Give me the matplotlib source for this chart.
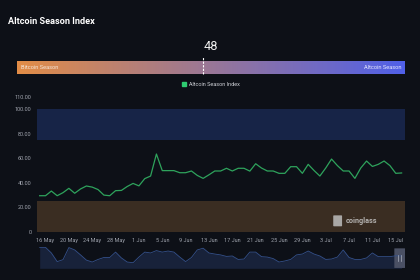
import numpy as np
import pandas as pd
import matplotlib
matplotlib.use("Agg")
import matplotlib.pyplot as plt
from matplotlib.colors import LinearSegmentedColormap
from matplotlib.patches import FancyBboxPatch

plt.rcParams['font.family'] = ['Roboto', 'DejaVu Sans']

# data
dates = pd.date_range("2024-05-15", "2024-07-16", freq="D")
index_values = [29.5, 29.5, 33.3, 29.5, 32.0, 35.5, 31.5, 35.0, 37.4, 36.5,
                34.5, 30.0, 29.5, 33.6, 33.8, 37.0, 39.5, 37.5, 43.4, 45.5,
                63.4, 49.9, 49.9, 49.9, 48.2, 48.2, 49.6, 46.0, 43.6, 46.5,
                49.6, 49.6, 51.8, 49.6, 51.8, 51.8, 49.5, 55.5, 52.0, 49.6,
                49.6, 47.7, 47.7, 53.1, 53.1, 47.7, 55.0, 50.0, 45.5, 52.0,
                59.3, 54.0, 49.6, 49.6, 43.6, 52.0, 57.7, 53.3, 55.0, 57.7,
                54.0, 47.7, 48.0]
# navigator (overview) series
nav_values = [97, 97, 71, 31, 40, 96, 85, 62, 38, 29,
              41, 50, 50, 75, 48, 29, 26, 52, 75, 71,
              82, 75, 80, 75, 52, 31, 50, 85, 93, 71,
              66, 62, 55, 57, 41, 43, 75, 75, 54, 52,
              45, 29, 34, 41, 62, 66, 80, 66, 57, 41,
              43, 52, 85, 50, 41, 41, 48, 71, 54, 54,
              54, 58, 57]
current_value = 48
y_ticks = [0, 20, 40, 60, 80, 100, 110]
tick_dates = pd.date_range("2024-05-16", "2024-07-15", freq="4D")

bg = "#0d1017"
fig = plt.figure(figsize=(4.2, 2.8), dpi=100)
fig.patch.set_facecolor(bg)

fig.text(7.5 / 420, 1 - 21 / 280, "Altcoin Season Index", color="white",
         fontsize=6.6, fontweight="bold", va="center", ha="left")

# gauge bar
gax = fig.add_axes([17 / 420, 1 - 74.3 / 280, 388 / 420, 13.3 / 280])
cmap = LinearSegmentedColormap.from_list("season", ["#e28d47", "#5060e8"])
gax.imshow(np.linspace(0, 1, 256).reshape(1, -1), aspect="auto", cmap=cmap,
           extent=[0, 100, 0, 1])
gax.set_xlim(0, 100)
gax.set_ylim(0, 1)
gax.axis("off")
gax.text(1.0, 0.5, "Bitcoin Season", color="#f4e6da", fontsize=4.1,
         va="center", ha="left")
gax.text(99.0, 0.5, "Altcoin Season", color="#e6e8ff", fontsize=4.1,
         va="center", ha="right")
gax.plot([current_value, current_value], [0.05, 1.3], color="white", lw=0.8,
         ls=(0, (2, 1.2)), clip_on=False)
gax.text(current_value + 0.15, 2.07, str(current_value), color="#eeeeee",
         fontsize=9.2, ha="left", va="center")

# legend
fig.patches.append(plt.Rectangle((181.7 / 420, 1 - 86 / 280), 4 / 420, 4 / 280,
                                 transform=fig.transFigure, color="#2ecc71"))
fig.text(189 / 420, 1 - 84 / 280, "Altcoin Season Index", color="#d0d2d8",
         fontsize=4.0, va="center", ha="left")

# main chart
ax = fig.add_axes([37 / 420, 1 - 232 / 280, 368 / 420, 135.3 / 280])
ax.set_facecolor(bg)
ax.axhspan(75, 100, color="#172447", lw=0)
ax.axhspan(0, 25, color="#3a2d22", lw=0)
ax.plot(dates, index_values, color="#2ea35c", lw=0.9, solid_joinstyle="round")
ax.set_ylim(0, 110)
ax.set_xlim(dates[0] - pd.Timedelta(hours=11), dates[-1] + pd.Timedelta(hours=14))
ax.set_yticks(y_ticks)
ax.set_yticklabels(["0" if v == 0 else f"{v:.2f}" for v in y_ticks])
ax.set_xticks(tick_dates)
ax.set_xticklabels([f"{d.day} {d.strftime('%b')}" for d in tick_dates])
ax.tick_params(colors="#a0a4ae", labelsize=4.0, length=0, pad=4)
for s in ax.spines.values():
    s.set_visible(False)

# watermark
ax.text(0.838, 0.081, "coinglass", transform=ax.transAxes, color="#c9c9c9",
        fontsize=5.2, fontweight="bold", va="center", ha="left", alpha=0.85)
ax.add_patch(FancyBboxPatch((0.808, 0.045), 0.018, 0.075, transform=ax.transAxes,
                            boxstyle="round,pad=0.003", color="#bdbdbd", lw=0,
                            alpha=0.85))

# navigator
nax = fig.add_axes([37 / 420, 1 - 268.3 / 280, 368 / 420, 21.6 / 280])
nax.set_facecolor(bg)
nax.fill_between(dates, nav_values, 0, color="#18223a", lw=0)
nax.plot(dates, nav_values, color="#34508a", lw=0.6)
nax.set_xlim(ax.get_xlim())
nax.set_ylim(0, 100)
nax.axis("off")
nax.add_patch(FancyBboxPatch((0.975, 0.02), 0.022, 0.9, transform=nax.transAxes,
                             boxstyle="round,pad=0.004", color="#4a5064", lw=0))
nax.plot([0.982, 0.982], [0.35, 0.6], color="#a8aebc", lw=0.5, transform=nax.transAxes)
nax.plot([0.99, 0.99], [0.35, 0.6], color="#a8aebc", lw=0.5, transform=nax.transAxes)

fig.savefig("out.png", dpi=100, facecolor=bg)
